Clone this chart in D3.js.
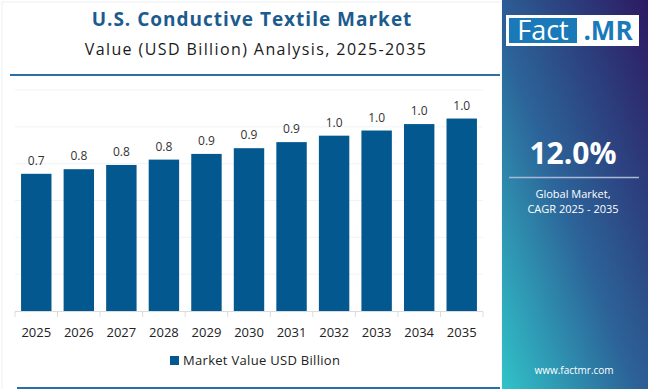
<!DOCTYPE html>
<html>
<head>
<meta charset="utf-8">
<script src="https://cdn.jsdelivr.net/npm/d3@7"></script>
<style>
  html, body { margin: 0; padding: 0; background: #fff; }
  svg { display: block; font-family: "Open Sans", sans-serif; }
</style>
</head>
<body>
<div id="chart"></div>
<script>
var years = ["2025", "2026", "2027", "2028", "2029", "2030", "2031", "2032", "2033", "2034", "2035"];
var values = [0.745, 0.77, 0.793, 0.822, 0.853, 0.884, 0.917, 0.952, 0.98, 1.015, 1.045];
var yTicks = [0, 0.2, 0.4, 0.6, 0.8, 1.0, 1.2];
var cagrText = "12.0%";

var width = 650, height = 389;
var svg = d3.select("#chart").append("svg")
	.attr("width", width)
	.attr("height", height);

var defs = svg.append("defs");
var grad = defs.append("linearGradient")
	.attr("id", "side")
	.attr("x1", 0).attr("y1", 1)
	.attr("x2", 1).attr("y2", 0);
grad.append("stop").attr("offset", "0%").attr("stop-color", "#31c3c9");
grad.append("stop").attr("offset", "45%").attr("stop-color", "#2c6499");
grad.append("stop").attr("offset", "100%").attr("stop-color", "#2d1a62");

// left panel faint frame
svg.append("rect")
	.attr("x", 2).attr("y", 2)
	.attr("width", 500).attr("height", 390)
	.attr("fill", "none")
	.attr("stroke", "#eef0f2");

// titles
svg.append("text")
	.attr("x", 252).attr("y", 26)
	.attr("text-anchor", "middle")
	.attr("font-size", 19)
	.attr("font-weight", 700)
	.attr("letter-spacing", 1)
	.attr("fill", "#1c5b8e")
	.text("U.S. Conductive Textile Market");

svg.append("text")
	.attr("x", 256).attr("y", 55)
	.attr("text-anchor", "middle")
	.attr("font-size", 16)
	.attr("letter-spacing", 1.4)
	.attr("fill", "#1a1a1a")
	.text("Value (USD Billion) Analysis, 2025-2035");

svg.append("line")
	.attr("x1", 10).attr("x2", 500)
	.attr("y1", 75).attr("y2", 75)
	.attr("stroke", "#2a6fa8")
	.attr("stroke-width", 2);

svg.append("line")
	.attr("x1", 17).attr("x2", 500)
	.attr("y1", 388).attr("y2", 388)
	.attr("stroke", "#2a6fa8")
	.attr("stroke-width", 2);

// chart
var x = d3.scaleBand()
	.domain(years)
	.range([15, 483])
	.paddingInner(0.285)
	.paddingOuter(0.1425);

var y = d3.scaleLinear()
	.domain([0, 1.2])
	.range([311, 90]);

svg.append("g")
	.selectAll("line")
	.data(yTicks.slice(1))
	.enter().append("line")
		.attr("x1", 15).attr("x2", 483)
		.attr("y1", function(d) { return y(d); })
		.attr("y2", function(d) { return y(d); })
		.attr("stroke", "#f1f3f5");

svg.append("g")
	.selectAll("rect")
	.data(values)
	.enter().append("rect")
		.attr("x", function(d, i) { return x(years[i]); })
		.attr("y", function(d) { return y(d); })
		.attr("width", x.bandwidth())
		.attr("height", function(d) { return y(0) - y(d); })
		.attr("fill", "#03588f");

svg.append("g")
	.selectAll("text")
	.data(values)
	.enter().append("text")
		.attr("x", function(d, i) { return x(years[i]) + x.bandwidth() / 2; })
		.attr("y", function(d) { return y(d) - 9; })
		.attr("text-anchor", "middle")
		.attr("font-size", 12)
		.attr("fill", "#333")
		.text(function(d) { return d.toFixed(1); });

// x axis: line with ticks at band boundaries
var axis = svg.append("g");
axis.append("line")
	.attr("x1", 15).attr("x2", 483)
	.attr("y1", 311.5).attr("y2", 311.5)
	.attr("stroke", "#d9dcdf");
axis.selectAll("line.tick")
	.data(d3.range(years.length + 1))
	.enter().append("line")
		.attr("class", "tick")
		.attr("x1", function(i) { return 15 + i * x.step(); })
		.attr("x2", function(i) { return 15 + i * x.step(); })
		.attr("y1", 311.5).attr("y2", 317)
		.attr("stroke", "#d9dcdf");
axis.selectAll("text")
	.data(years)
	.enter().append("text")
		.attr("x", function(d) { return x(d) + x.bandwidth() / 2; })
		.attr("y", 337)
		.attr("text-anchor", "middle")
		.attr("font-size", 13)
		.attr("fill", "#222")
		.text(function(d) { return d; });

// legend
svg.append("rect")
	.attr("x", 170).attr("y", 356)
	.attr("width", 9).attr("height", 9)
	.attr("fill", "#03588f");
svg.append("text")
	.attr("x", 183).attr("y", 365)
	.attr("font-size", 13)
	.attr("letter-spacing", 0.3)
	.attr("fill", "#222")
	.text("Market Value USD Billion");

// side panel
var side = svg.append("g");
side.append("rect")
	.attr("x", 502).attr("y", 0)
	.attr("width", 146).attr("height", 389)
	.attr("fill", "url(#side)");

side.append("rect")
	.attr("x", 506).attr("y", 15)
	.attr("width", 133).attr("height", 31)
	.attr("fill", "#fff");
side.append("rect")
	.attr("x", 509).attr("y", 18)
	.attr("width", 68).attr("height", 25)
	.attr("fill", "#1a79b9");
side.append("text")
	.attr("x", 543).attr("y", 40)
	.attr("text-anchor", "middle")
	.attr("font-size", 27)
	.attr("fill", "#fff")
	.text("Fact");
side.append("text")
	.attr("x", 608).attr("y", 40)
	.attr("text-anchor", "middle")
	.attr("font-size", 26)
	.attr("font-weight", 700)
	.attr("fill", "#1a79b9")
	.text(".MR");

side.append("text")
	.attr("x", 573).attr("y", 164)
	.attr("text-anchor", "middle")
	.attr("font-size", 30)
	.attr("font-weight", 700)
	.attr("fill", "#fff")
	.text(cagrText);

side.append("line")
	.attr("x1", 509).attr("x2", 639)
	.attr("y1", 177.5).attr("y2", 177.5)
	.attr("stroke", "#a9b8d6")
	.attr("stroke-width", 1.5);

side.append("text")
	.attr("x", 573).attr("y", 198)
	.attr("text-anchor", "middle")
	.attr("font-size", 11)
	.attr("fill", "#fff")
	.text("Global Market,");
side.append("text")
	.attr("x", 573).attr("y", 213)
	.attr("text-anchor", "middle")
	.attr("font-size", 11)
	.attr("fill", "#fff")
	.text("CAGR 2025 - 2035");

side.append("text")
	.attr("x", 574).attr("y", 374)
	.attr("text-anchor", "middle")
	.attr("font-size", 10)
	.attr("fill", "#fff")
	.text("www.factmr.com");
</script>
</body>
</html>
